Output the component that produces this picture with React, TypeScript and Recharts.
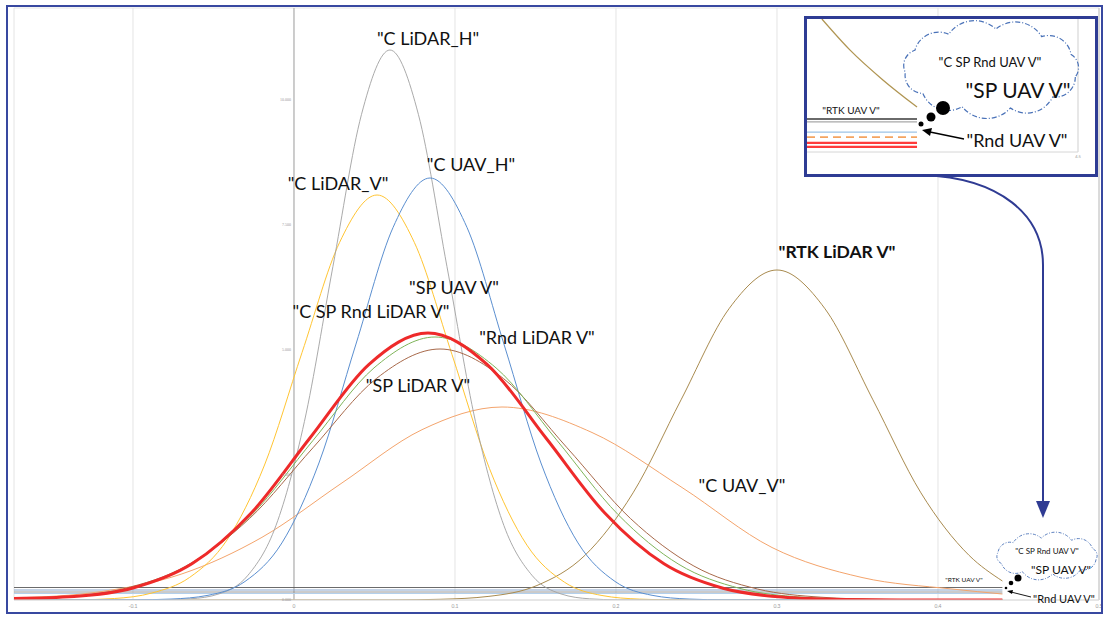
import React from "react";
import { LineChart, Line, XAxis, YAxis, CartesianGrid, ReferenceLine, ReferenceDot } from "recharts";

// ---------- axis ticks ----------
const xTicks = [-0.1, 0, 0.1, 0.2, 0.3, 0.4, 0.5];
const xTickLabels = ["-0.1", "0", "0.1", "0.2", "0.3", "0.4", "0.5"];
const yTicks = [0, 2.5, 5, 7.5, 10];
const yTickLabels = ["0.000", "2.500", "5.000", "7.500", "10.000"];

// ---------- main chart series (x, density) ----------
const cLidarHX = [-0.174, -0.082, -0.0643, -0.0466, -0.0289, -0.0112, 0.0065, 0.0242, 0.0419, 0.0596, 0.0773, 0.095, 0.1127, 0.1304, 0.1481, 0.1658, 0.1835, 0.2012, 0.44];
const cLidarHY = [0, 0.004, 0.024, 0.122, 0.483, 1.488, 3.572, 6.672, 9.708, 11.0, 9.708, 6.672, 3.572, 1.488, 0.483, 0.122, 0.024, 0.004, 0];

const cUavHX = [-0.174, -0.0994, -0.0764, -0.0534, -0.0304, -0.0075, 0.0155, 0.0385, 0.0615, 0.0845, 0.1075, 0.1304, 0.1534, 0.1764, 0.1994, 0.2224, 0.2454, 0.2683, 0.44];
const cUavHY = [0, 0.003, 0.019, 0.094, 0.371, 1.142, 2.74, 5.119, 7.448, 8.44, 7.448, 5.119, 2.74, 1.142, 0.371, 0.094, 0.019, 0.003, 0];

const cLidarVX = [-0.174, -0.1348, -0.1115, -0.0882, -0.0649, -0.0416, -0.0183, 0.005, 0.0283, 0.0516, 0.0748, 0.0981, 0.1214, 0.1447, 0.168, 0.1913, 0.2146, 0.2379, 0.44];
const cLidarVY = [0, 0.004, 0.03, 0.14, 0.45, 1.2, 2.7, 4.95, 7.15, 8.1, 7.148, 4.913, 2.63, 1.096, 0.356, 0.09, 0.018, 0.002, 0];

const cSpRndLidarVX = [-0.174, -0.1366, -0.1, -0.0634, -0.0267, 0.0099, 0.0466, 0.0832, 0.1199, 0.1565, 0.1932, 0.2298, 0.2665, 0.3031, 0.3398, 0.3764, 0.44];
const cSpRndLidarVY = [0.03, 0.07, 0.24, 0.723, 1.734, 3.239, 4.713, 5.34, 4.713, 3.239, 1.734, 0.723, 0.234, 0.059, 0.012, 0.002, 0];

const spUavVX = [-0.174, -0.1397, -0.1019, -0.064, -0.0261, 0.0118, 0.0497, 0.0876, 0.1255, 0.1634, 0.2013, 0.2391, 0.277, 0.3149, 0.3528, 0.3907, 0.44];
const spUavVY = [0.02, 0.06, 0.231, 0.712, 1.708, 3.19, 4.642, 5.26, 4.642, 3.19, 1.708, 0.712, 0.231, 0.058, 0.012, 0.002, 0];

const rndLidarVX = [-0.174, -0.146, -0.1065, -0.0671, -0.0276, 0.0118, 0.0512, 0.0907, 0.1301, 0.1696, 0.209, 0.2484, 0.2879, 0.3273, 0.3668, 0.4062, 0.44];
const rndLidarVY = [0.02, 0.056, 0.22, 0.679, 1.63, 3.045, 4.43, 5.02, 4.43, 3.045, 1.63, 0.679, 0.22, 0.056, 0.011, 0.002, 0];

const cUavVX = [-0.174, -0.1193, -0.0696, -0.0199, 0.0298, 0.0795, 0.1292, 0.1851, 0.241, 0.2969, 0.3528, 0.4087, 0.44];
const cUavVY = [0.04, 0.17, 0.522, 1.253, 2.341, 3.406, 3.86, 3.35, 2.25, 1.05, 0.45, 0.22, 0.12];

const rtkLidarVX = [-0.174, 0.0615, 0.0913, 0.1211, 0.1509, 0.1807, 0.2106, 0.2404, 0.2702, 0.3, 0.3298, 0.3596, 0.3894, 0.4193, 0.44];
const rtkLidarVY = [0, 0.002, 0.015, 0.073, 0.29, 0.893, 2.143, 4.003, 5.825, 6.6, 5.825, 4.003, 2.143, 0.893, 0.38];

const rtkUavVX = [-0.174, 0.1, 0.3, 0.44];
const rtkUavVY = [0.25, 0.25, 0.25, 0.25];
const spUavFlatX = [-0.174, 0.1, 0.3, 0.44];
const spUavFlatY = [0.2, 0.2, 0.2, 0.2];
const rndUavVX = [-0.174, 0.1, 0.3, 0.44];
const rndUavVY = [0.16, 0.16, 0.16, 0.16];
const cSpRndUavVX = [-0.174, 0.1, 0.3, 0.44];
const cSpRndUavVY = [0.13, 0.13, 0.13, 0.13];

// ---------- inset (zoomed view) series ----------
const insetTanX = [0.55, 1.59, 2.8, 4.06];
const insetTanY = [5.0, 3.83, 2.71, 1.69];
const insetFlatX = [0, 4.06];
const insetRtkY = [1.24, 1.24];
const insetGrayY = [1.13, 1.13];
const insetBlueY = [0.75, 0.75];
const insetOrangeY = [0.56, 0.56];
const insetRed1Y = [0.34, 0.34];
const insetRed2Y = [0.19, 0.19];

type Pt = { x: number; y: number };
const zip = (xs: number[], ys: number[]): Pt[] => xs.map((x, i) => ({ x, y: ys[i] }));

const mainSeries = [
  { name: "RTK UAV V", data: zip(rtkUavVX, rtkUavVY), color: "#5a5a5a", w: 0.9 },
  { name: "SP UAV V flat", data: zip(spUavFlatX, spUavFlatY), color: "#8aa6cc", w: 1.1 },
  { name: "Rnd UAV V", data: zip(rndUavVX, rndUavVY), color: "#8a8a8a", w: 0.9 },
  { name: "C SP Rnd UAV V", data: zip(cSpRndUavVX, cSpRndUavVY), color: "#b3d0ec", w: 1.1 },
  { name: "RTK LiDAR V", data: zip(rtkLidarVX, rtkLidarVY), color: "#a98b4f", w: 1 },
  { name: "C UAV_V", data: zip(cUavVX, cUavVY), color: "#f4a46c", w: 1 },
  { name: "C LiDAR_V", data: zip(cLidarVX, cLidarVY), color: "#ffc533", w: 1 },
  { name: "C LiDAR_H", data: zip(cLidarHX, cLidarHY), color: "#a0a0a0", w: 0.9 },
  { name: "C UAV_H", data: zip(cUavHX, cUavHY), color: "#5b8fd0", w: 1 },
  { name: "Rnd LiDAR V", data: zip(rndLidarVX, rndLidarVY), color: "#a8694a", w: 1 },
  { name: "SP UAV V", data: zip(spUavVX, spUavVY), color: "#7fb55a", w: 1 },
  { name: "C SP Rnd LiDAR V", data: zip(cSpRndLidarVX, cSpRndLidarVY), color: "#ee2a2a", w: 3 },
];

const insetSeries = [
  { name: "tan", data: zip(insetTanX, insetTanY), color: "#b09552", w: 1.3, dash: undefined as string | undefined },
  { name: "rtk", data: zip(insetFlatX, insetRtkY), color: "#383838", w: 1.5, dash: undefined },
  { name: "gray", data: zip(insetFlatX, insetGrayY), color: "#a8a8a8", w: 1.2, dash: undefined },
  { name: "blue", data: zip(insetFlatX, insetBlueY), color: "#9dc3e6", w: 1.3, dash: undefined },
  { name: "orange", data: zip(insetFlatX, insetOrangeY), color: "#f4a460", w: 1.8, dash: "8 5" },
  { name: "red1", data: zip(insetFlatX, insetRed1Y), color: "#ff3b3b", w: 2.2, dash: undefined },
  { name: "red2", data: zip(insetFlatX, insetRed2Y), color: "#ff3b3b", w: 2.2, dash: undefined },
];

function cloudPath(cx: number, cy: number, rx: number, ry: number, n: number): string {
  const pts: number[][] = [];
  for (let i = 0; i < n; i++) {
    const a = (i / n) * Math.PI * 2 + 0.2;
    pts.push([cx + rx * Math.cos(a), cy + ry * Math.sin(a)]);
  }
  let d = `M ${pts[0][0].toFixed(1)} ${pts[0][1].toFixed(1)}`;
  for (let i = 1; i <= n; i++) {
    const p = pts[i % n];
    const q = pts[i - 1];
    const r = Math.hypot(p[0] - q[0], p[1] - q[1]) * 0.66;
    d += ` A ${r.toFixed(1)} ${r.toFixed(1)} 0 0 1 ${p[0].toFixed(1)} ${p[1].toFixed(1)}`;
  }
  return d + " Z";
}

const FONT = "Lato, 'Open Sans', sans-serif";

export default function App() {
  const lbl = { fontFamily: FONT, fill: "#111", textAnchor: "middle" as const, dominantBaseline: "central" as const };
  return (
    <div style={{ position: "absolute", left: 0, top: 0, width: 1106, height: 618, background: "#fff", overflow: "hidden" }}>
      <div style={{ position: "absolute", left: 0, top: 0 }}>
        <LineChart width={1106} height={618} margin={{ top: 8, right: 7, bottom: 6, left: 14 }}>
          <CartesianGrid stroke="#e4e4e4" strokeWidth={1} />
          <XAxis
            type="number"
            dataKey="x"
            domain={[-0.1739, 0.5]}
            ticks={xTicks}
            interval={0}
            allowDataOverflow
            height={12}
            tickSize={2}
            tickLine={false}
            axisLine={{ stroke: "#dcdcdc" }}
            tick={{ fontSize: 5, fill: "#999", fontFamily: FONT }}
            tickFormatter={(v: number) => xTickLabels[xTicks.indexOf(v)] ?? String(v)}
          />
          <YAxis type="number" dataKey="y" domain={[0, 11.84]} ticks={yTicks} width={0} tick={false} axisLine={false} tickLine={false} allowDataOverflow />
          <ReferenceLine x={0} stroke="#a8a8a8" strokeWidth={1} />
          <ReferenceLine x={0.5} stroke="#c4c4c4" strokeWidth={1} />
          {yTicks.map((v, i) => (
            <ReferenceDot
              key={"yl" + i}
              x={0}
              y={v}
              r={0}
              fill="none"
              stroke="none"
              label={{ value: yTickLabels[i], position: "left", fontSize: 4, fill: "#999", offset: 3 }}
            />
          ))}
          {mainSeries.map((s) => (
            <Line
              key={s.name}
              name={s.name}
              data={s.data}
              dataKey="y"
              type="monotone"
              dot={false}
              activeDot={false}
              stroke={s.color}
              strokeWidth={s.w}
              isAnimationActive={false}
            />
          ))}
        </LineChart>
      </div>

      {/* main frame */}
      <div style={{ position: "absolute", left: 6, top: 5, width: 1097, height: 609, border: "2px solid #3848a0", boxSizing: "border-box" }} />

      {/* inset box */}
      <div style={{ position: "absolute", left: 804, top: 16, width: 294, height: 161, border: "3px solid #2e3c94", boxSizing: "border-box", background: "#fff" }}>
        <LineChart width={288} height={155} margin={{ top: 0, right: 17, bottom: 22, left: 0 }}>
          <XAxis type="number" dataKey="x" domain={[0, 10]} hide allowDataOverflow />
          <YAxis type="number" dataKey="y" domain={[0, 5]} hide allowDataOverflow />
          <ReferenceLine x={10} stroke="#cfcfcf" />
          <ReferenceLine y={0} stroke="#d6d6d6" />
          {insetSeries.map((s) => (
            <Line
              key={s.name}
              data={s.data}
              dataKey="y"
              type="monotone"
              dot={false}
              activeDot={false}
              stroke={s.color}
              strokeWidth={s.w}
              strokeDasharray={s.dash}
              isAnimationActive={false}
            />
          ))}
        </LineChart>
      </div>

      {/* annotations */}
      <svg width={1106} height={618} style={{ position: "absolute", left: 0, top: 0, pointerEvents: "none" }}>
        <g style={{ fontFamily: FONT }}>
          <text x={428} y={38} fontSize={18} {...lbl}>"C LiDAR_H"</text>
          <text x={471} y={164} fontSize={18} {...lbl}>"C UAV_H"</text>
          <text x={338} y={183} fontSize={18} {...lbl}>"C LiDAR_V"</text>
          <text x={454} y={287} fontSize={18} {...lbl}>"SP UAV V"</text>
          <text x={371} y={311} fontSize={18} {...lbl}>"C SP Rnd LiDAR V"</text>
          <text x={537} y={337} fontSize={18} {...lbl}>"Rnd LiDAR V"</text>
          <text x={418} y={385} fontSize={18} {...lbl}>"SP LiDAR V"</text>
          <text x={742} y={485} fontSize={18} {...lbl}>"C UAV_V"</text>
          <text x={837} y={251} fontSize={17.5} fontWeight={700} {...lbl}>"RTK LiDAR V"</text>

          {/* inset annotations */}
          <path d={cloudPath(991, 69, 86, 40, 11)} fill="none" stroke="#4a72b8" strokeWidth={1.2} strokeDasharray="5 2 1 2" />
          <text x={990} y={62} fontSize={13} {...lbl}>"C SP Rnd UAV V"</text>
          <text x={1018} y={89} fontSize={21} {...lbl}>"SP UAV V"</text>
          <circle cx={943} cy={108} r={7} fill="#000" />
          <circle cx={931} cy={117} r={4.5} fill="#000" />
          <circle cx={921} cy={124} r={2.5} fill="#000" />
          <text x={851} y={110} fontSize={10} {...lbl}>"RTK UAV V"</text>
          <line x1={964} y1={139} x2={930} y2={132} stroke="#000" strokeWidth={1.3} />
          <polygon points="922,130 932,128 930,136" fill="#000" />
          <text x={1017} y={140} fontSize={18} {...lbl}>"Rnd UAV V"</text>
          <text x={1078} y={158} fontSize={4} fill="#999" textAnchor="middle">4.5</text>

          {/* connecting arrow */}
          <path d="M 923 175 C 1000 178, 1043 215, 1043 265 L 1043 503" fill="none" stroke="#2f3b93" strokeWidth={2} />
          <polygon points="1036,501 1050,501 1043,518" fill="#2f3b93" />

          {/* bottom-right annotations */}
          <path d={cloudPath(1047, 556, 50, 18, 10)} fill="none" stroke="#4a72b8" strokeWidth={0.9} strokeDasharray="3 1.5 1 1.5" />
          <text x={1047} y={551} fontSize={8} {...lbl}>"C SP Rnd UAV V"</text>
          <text x={1061} y={569} fontSize={12} {...lbl}>"SP UAV V"</text>
          <circle cx={1018} cy={578} r={3.5} fill="#000" />
          <circle cx={1011} cy={583} r={2.3} fill="#000" />
          <circle cx={1006} cy={588} r={1.3} fill="#000" />
          <text x={964} y={579} fontSize={6.5} {...lbl}>"RTK UAV V"</text>
          <line x1={1031} y1={597} x2={1011} y2={592} stroke="#000" strokeWidth={0.9} />
          <polygon points="1007,591 1013,590 1012,594" fill="#000" />
          <text x={1064} y={598} fontSize={11} {...lbl}>"Rnd UAV V"</text>
        </g>
      </svg>
    </div>
  );
}
